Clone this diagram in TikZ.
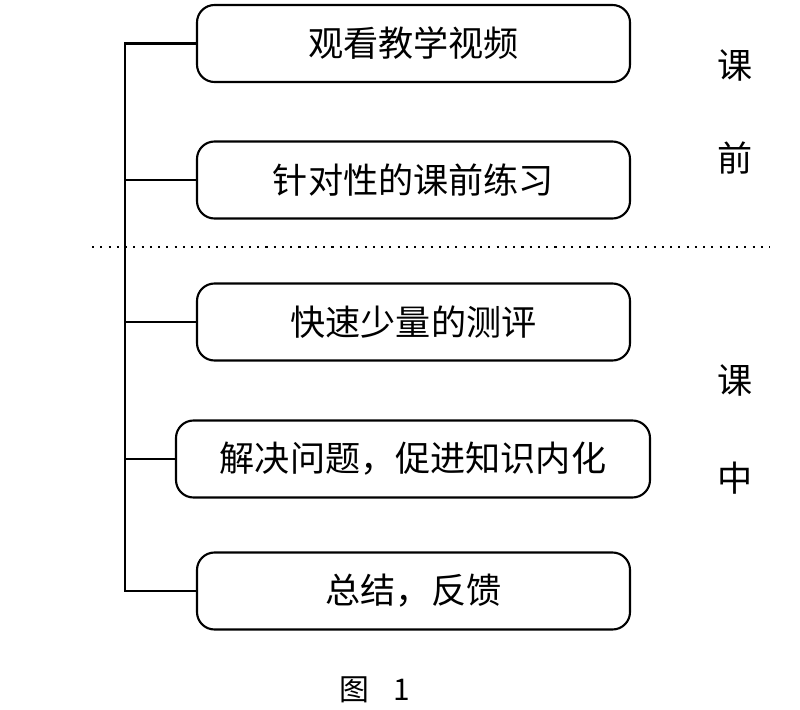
\documentclass[tikz,border=0pt]{standalone}
\usepackage{fontspec}
\setmainfont{Noto Sans CJK SC}
\begin{document}
\begin{tikzpicture}[x=0.02cm,y=-0.02cm,
  box/.style={draw,line width=1.2pt,rounded corners=0.35cm,inner sep=0pt,font=\fontsize{20}{22}\selectfont},
  side/.style={font=\fontsize{20}{22}\selectfont},
  ln/.style={line width=1.2pt}]
\useasboundingbox (0,0) rectangle (800,709);
\node[box,minimum width=433*0.02cm,minimum height=77*0.02cm] (b1) at (413.5,43.5) {观看教学视频};
\node[box,minimum width=433*0.02cm,minimum height=77*0.02cm] (b2) at (413.5,180) {针对性的课前练习};
\node[box,minimum width=433*0.02cm,minimum height=77*0.02cm] (b3) at (413.5,322) {快速少量的测评};
\node[box,minimum width=474*0.02cm,minimum height=77*0.02cm] (b4) at (413,459) {解决问题，促进知识内化};
\node[box,minimum width=433*0.02cm,minimum height=77*0.02cm] (b5) at (413.5,591) {总结，反馈};
\coordinate (top) at (125,43.5);
\coordinate (bot) at (125,591);
\draw[ln,line cap=rect] (top) -- (bot);
\foreach \b in {b1,b2,b3,b4,b5} \draw[ln] (\b.west) -- (\b.west -| top);
\coordinate (d1) at (92,247);
\coordinate (d2) at (770,247);
\draw[line width=1.2pt,dash pattern=on 1.2pt off 3.5pt] (d1) -- (d2);
\node[side] (s1) at (735,65) {课};
\node[side] (s2) at (735,158) {前};
\node[side] (s3) at (735,380) {课};
\node[side] (s4) at (735,478) {中};
\node[font=\fontsize{17}{19}\selectfont] (cap) at (375,690) {图\hspace{0.8em}1};
\end{tikzpicture}
\end{document}
